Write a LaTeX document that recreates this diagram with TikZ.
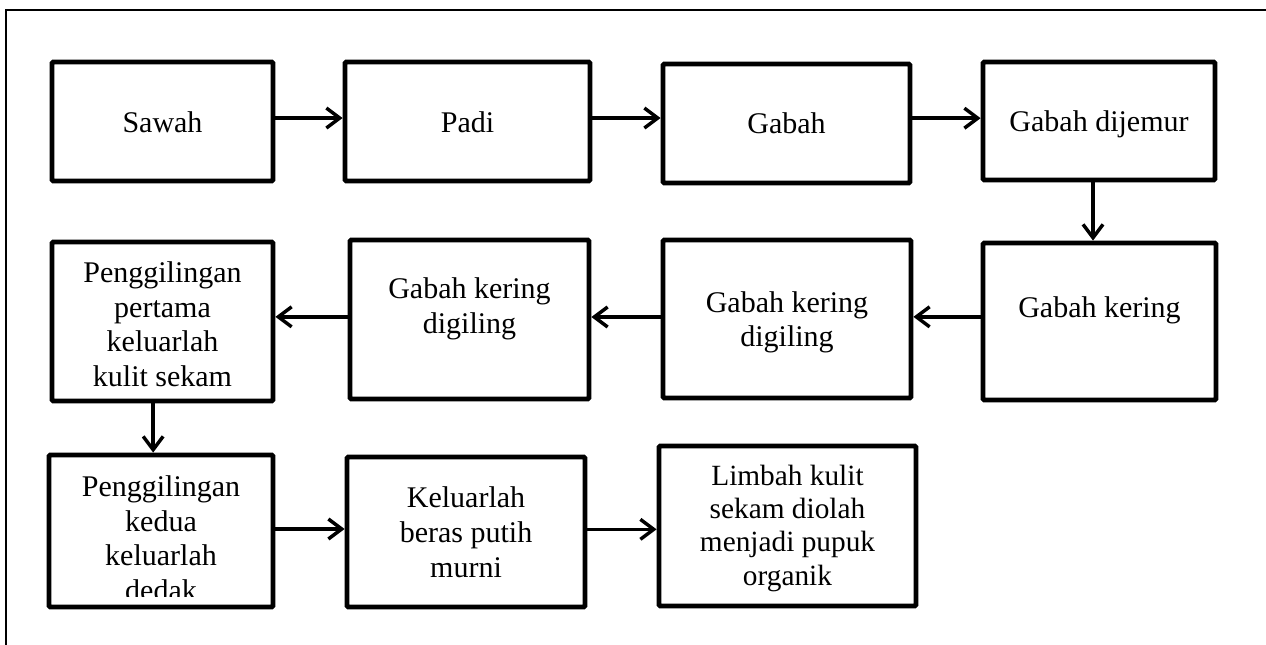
\documentclass[tikz,border=0pt]{standalone}
\usepackage{fontspec}
\setmainfont{Liberation Serif}
\usetikzlibrary{arrows.meta,calc}
\newcommand\tx[2]{\raisebox{#1}[\height][\depth]{\begin{tabular}{@{}c@{}}#2\end{tabular}}}
\tikzset{
  box/.style={draw, line width=3.6pt, rounded corners=1pt, inner sep=0pt,
    font=\fontsize{22.5pt}{26pt}\selectfont},
  arr/.style={line width=2.6pt, -{Straight Barb[length=10pt,width=15pt,line width=2.6pt]}},
  frame/.style={line width=1.5pt}
}
\begin{document}
\begin{tikzpicture}[x=0.75pt,y=-0.75pt]
\useasboundingbox (0,0) rectangle (1266,645);
\coordinate (ftop) at (1266,10);
\coordinate (fcorner) at (6,10);
\coordinate (fbot) at (6,645);
\draw[frame] (ftop) -- (fcorner) -- (fbot);
% row 1
\node[box, minimum width=165.75pt, minimum height=89.25pt] (sawah) at (162.5,121.5) {\tx{-2.7pt}{Sawah}};
\node[box, minimum width=183.75pt, minimum height=89.25pt] (padi) at (467.5,121.5) {\tx{-3.4pt}{Padi}};
\node[box, minimum width=185.25pt, minimum height=89.25pt] (gabah) at (786.5,123.5) {\tx{-2.25pt}{Gabah}};
\node[box, minimum width=174pt, minimum height=88.5pt] (dijemur) at (1099,121) {\tx{-3pt}{Gabah dijemur}};
% row 2
\node[box, minimum width=174.75pt, minimum height=117.75pt] (kering) at (1099.5,321.5) {\tx{8.5pt}{Gabah kering}};
\node[box, minimum width=186pt, minimum height=118.5pt] (dig2) at (787,319) {\tx{-2.6pt}{Gabah kering\\digiling}};
\node[box, minimum width=179.25pt, minimum height=119.25pt] (dig1) at (469.5,319.5) {\tx{8pt}{Gabah kering\\digiling}};
\node[box, minimum width=165.75pt, minimum height=119.25pt] (pertama) at (162.5,321.5) {\tx{-4.5pt}{Penggilingan\\pertama\\keluarlah\\kulit sekam}};
% row 3
\node[box, minimum width=168pt, minimum height=114pt] (kedua) at (161,531) {\tx{-7.9pt}{Penggilingan\\kedua\\keluarlah\\dedak}};
\fill[white] ($(kedua.south west)+(5,-12)$) rectangle ($(kedua.south east)+(-5,-5)$);
\node[box, minimum width=178.5pt, minimum height=112.5pt] (beras) at (466,532) {\tx{-2.6pt}{Keluarlah\\beras putih\\murni}};
\node[box, minimum width=192.75pt, minimum height=120pt, font=\fontsize{22pt}{25pt}\selectfont] (limbah) at (787.5,526) {\tx{-1.9pt}{Limbah kulit\\sekam diolah\\menjadi pupuk\\organik}};
% arrows
\draw[arr] ([yshift=2.6pt]sawah.east) -- ([yshift=2.6pt]sawah.east -| padi.west);
\draw[arr] ([yshift=2.6pt]padi.east) -- ([yshift=2.6pt]padi.east -| gabah.west);
\draw[arr] ([yshift=4pt]gabah.east) -- ([yshift=4pt]gabah.east -| dijemur.west);
\draw[arr] ([xshift=-4.5pt]dijemur.south) -- ([xshift=-4.5pt]dijemur.south |- kering.north);
\draw[arr] ([yshift=3.5pt]kering.west) -- ([yshift=3.5pt]kering.west -| dig2.east);
\draw[arr] ([yshift=1.5pt]dig2.west) -- ([yshift=1.5pt]dig2.west -| dig1.east);
\draw[arr] ([yshift=2pt]dig1.west) -- ([yshift=2pt]dig1.west -| pertama.east);
\draw[arr] ([xshift=-7pt]pertama.south) -- ([xshift=-7pt]pertama.south |- kedua.north);
\draw[arr] ([yshift=1.5pt]kedua.east) -- ([yshift=1.5pt]kedua.east -| beras.west);
\draw[arr] ([yshift=2pt]beras.east) -- ([yshift=2pt]beras.east -| limbah.west);
\end{tikzpicture}
\end{document}
